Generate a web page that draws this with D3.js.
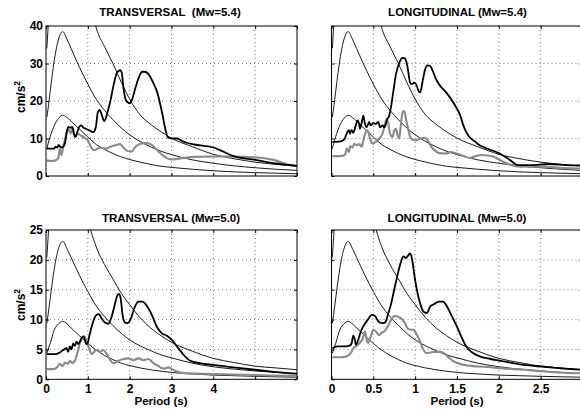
<!DOCTYPE html>
<html>
<head>
<meta charset="utf-8">
<script src="https://cdn.jsdelivr.net/npm/d3@7"></script>
<style>
  html, body { margin: 0; padding: 0; background: #fff; }
  svg { display: block; font-family: "Liberation Sans", Arial, Helvetica, sans-serif; font-weight: bold; }
</style>
</head>
<body>
<svg id="chart" width="580" height="413"></svg>
<script>
// ---- Spectral acceleration data (cm/s^2 vs period in s) ----

// Periods at which the fitted spectra are sampled
const periodsT = [0.02, 0.05, 0.1, 0.2, 0.3, 0.4, 0.5, 0.6, 0.8, 1.0, 1.2, 1.4, 1.6, 1.8, 2.0, 2.25, 2.5, 2.75, 3.0, 3.5, 4.0, 4.5, 5.0, 5.5, 6.0];
const periodsL = [0.01, 0.025, 0.05, 0.1, 0.15, 0.2, 0.25, 0.3, 0.4, 0.5, 0.6, 0.7, 0.8, 0.9, 1.0, 1.125, 1.25, 1.375, 1.5, 1.75, 2.0, 2.25, 2.5, 2.75, 3.0];

// Fitted spectra, Mw=5.4 (upper, median, lower)
const fitUpper54  = [34, 39.5, 49, 67, 79, 83, 79, 73, 61, 50, 39.5, 34.5, 30, 25, 20.5, 16.3, 13.8, 11.8, 10.1, 7.8, 5.8, 4.6, 3.7, 3.1, 2.6];
const fitMedian54 = [15.7, 18, 22.5, 31, 36.5, 38.5, 36.5, 34, 29, 24.5, 20.5, 17.5, 15, 12.8, 11, 9.2, 7.8, 6.6, 5.7, 4.3, 3.4, 2.7, 2.2, 1.8, 1.5];
const fitLower54  = [7.3, 8.6, 10.5, 13.5, 15.4, 16.2, 15.6, 14.6, 12.5, 10.4, 8.4, 7.1, 6.0, 5.1, 4.4, 3.7, 3.1, 2.6, 2.3, 1.8, 1.4, 1.1, 0.9, 0.75, 0.6];

// Fitted spectra, Mw=5.0 (upper, median, lower)
const fitUpper50  = [20.4, 23.7, 29.4, 40, 47, 50, 47, 44, 36, 27, 22.2, 19.2, 16.8, 14.4, 12.5, 10.3, 8.6, 7.3, 6.2, 4.7, 3.5, 2.8, 2.2, 1.9, 1.6];
const fitMedian50 = [9.4, 10.8, 13.5, 18.6, 21.9, 23.1, 21.9, 20.4, 17.4, 14.7, 12.3, 10.5, 9.0, 7.7, 6.6, 5.6, 4.8, 4.1, 3.6, 2.7, 2.1, 1.7, 1.4, 1.15, 0.95];
const fitLower50  = [4.4, 5.0, 6.0, 8.3, 9.3, 9.7, 9.3, 8.6, 7.3, 6.0, 4.9, 4.0, 3.3, 2.7, 2.3, 1.9, 1.6, 1.35, 1.15, 0.9, 0.7, 0.6, 0.5, 0.42, 0.35];

// Recorded spectra [period, Sa]: two stations per panel (black, gray)
const tr54Black = [[0.02,7.3],[0.19,7.3],[0.23,7.8],[0.27,7.6],[0.3,8.3],[0.33,7.9],[0.39,7.6],[0.45,8.6],[0.49,11.3],[0.53,13],[0.57,12.9],[0.63,13],[0.67,11.3],[0.71,10.4],[0.75,11.7],[0.79,13],[0.84,13.5],[0.89,12.9],[0.95,12.6],[1.03,12.2],[1.13,11.7],[1.19,13],[1.24,17],[1.28,17.6],[1.35,15.7],[1.39,14.6],[1.46,16.6],[1.54,20.1],[1.62,24.5],[1.7,27.6],[1.77,28.2],[1.81,27.6],[1.85,23.6],[1.9,20.5],[1.96,19.6],[2.0,19.4],[2.06,20.5],[2.14,23.6],[2.22,26.3],[2.3,27.8],[2.36,27.8],[2.44,27.3],[2.54,25.4],[2.66,22.3],[2.78,16.6],[2.86,12.2],[2.92,10.2],[3.0,10.0],[3.14,10],[3.26,9.3],[3.38,8.8],[3.54,8.4],[4.0,7.6],[4.16,6.9],[4.48,5.3],[5.0,4.3],[5.44,3.4],[5.84,2.9],[6.0,2.7]];
const tr54Gray = [[0.02,4.1],[0.15,4.0],[0.23,4.2],[0.29,4.7],[0.33,7.3],[0.37,5.6],[0.41,7.8],[0.47,10.4],[0.51,12.3],[0.55,12.2],[0.59,11.3],[0.63,13],[0.68,10.4],[0.75,11.3],[0.83,10.8],[0.89,10.4],[0.95,10],[1.0,9.5],[1.07,7.8],[1.15,6.9],[1.23,7.3],[1.31,7.6],[1.43,7.3],[1.54,7.8],[1.66,8.2],[1.77,8.5],[1.85,7.6],[1.94,6.7],[2.04,6.5],[2.14,7.8],[2.26,8.6],[2.38,8.8],[2.5,8.5],[2.62,7.3],[2.74,6.0],[2.9,4.7],[3.0,4.4],[3.22,4.7],[3.54,5.1],[4.0,5.2],[4.48,5.2],[5.0,5.0],[5.44,4.3],[5.84,2.9],[6.0,2.6]];

const lg54Black = [[0.01,9.1],[0.06,9.1],[0.12,9.3],[0.16,10],[0.18,11.3],[0.21,12.2],[0.22,11.3],[0.24,12.3],[0.26,11.5],[0.29,13.5],[0.31,14.8],[0.33,13.9],[0.34,12.6],[0.37,15.2],[0.38,16.1],[0.4,13.9],[0.42,13],[0.45,14.4],[0.47,13.5],[0.5,14.1],[0.53,13.9],[0.56,14.4],[0.58,13],[0.61,13.5],[0.63,13],[0.65,13.9],[0.66,14.8],[0.69,16.1],[0.71,18.3],[0.74,22.7],[0.77,27.1],[0.81,30.2],[0.85,31.5],[0.88,31.3],[0.91,28.9],[0.94,24.9],[0.96,24.5],[0.99,24.9],[1.02,24],[1.04,22.7],[1.06,22.3],[1.09,25.4],[1.12,28.5],[1.15,29.5],[1.18,29.3],[1.21,28],[1.25,25.8],[1.3,24],[1.37,22.3],[1.43,20.5],[1.49,18.3],[1.54,16.1],[1.57,13.9],[1.61,11.7],[1.65,10.4],[1.71,9.3],[1.77,8.2],[1.85,7.4],[2.01,6.0],[2.13,4.3],[2.23,2.9],[2.37,2.9],[2.6,3.2],[2.8,2.9],[3.0,2.8]];
const lg54Gray = [[0.01,5.3],[0.1,5.3],[0.16,5.6],[0.18,7.3],[0.21,6.4],[0.22,7.9],[0.25,7.6],[0.27,8.6],[0.3,8.2],[0.33,8.5],[0.36,7.8],[0.38,9.5],[0.41,11.7],[0.43,12.2],[0.46,10],[0.49,8.6],[0.53,9.1],[0.57,10],[0.61,11.3],[0.64,13.9],[0.66,15.2],[0.68,13.9],[0.7,11.3],[0.73,10.4],[0.75,12.2],[0.77,12.6],[0.79,10.8],[0.81,10],[0.83,13.9],[0.85,17],[0.87,17.4],[0.89,15.2],[0.92,12.2],[0.94,10.4],[0.97,9.7],[1.01,9.5],[1.06,10],[1.11,10.2],[1.15,9.5],[1.19,7.9],[1.23,6.9],[1.29,6.1],[1.37,6.0],[1.43,6.4],[1.49,6.0],[1.57,5.4],[1.65,4.8],[1.72,5.3],[1.79,5.6],[1.93,5.2],[2.05,3.8],[2.15,2.9],[2.29,2.5],[2.53,2.5],[2.77,2.1],[3.0,2.0]];

const tr50Black = [[0.02,4.2],[0.22,4.2],[0.33,4.5],[0.41,4.9],[0.49,5.2],[0.53,4.6],[0.57,5.5],[0.61,5.0],[0.65,6.0],[0.69,5.6],[0.73,6.3],[0.77,5.9],[0.81,6.3],[0.85,6.9],[0.89,7.2],[0.93,6.6],[0.96,5.9],[0.99,6.0],[1.05,7.7],[1.13,9.7],[1.21,10.8],[1.27,10.9],[1.33,10.2],[1.41,9.5],[1.49,9.3],[1.57,10.5],[1.65,12.7],[1.71,14.1],[1.75,14.3],[1.79,13.3],[1.83,10.8],[1.89,9.5],[1.95,9.4],[2.03,10.2],[2.11,11.9],[2.21,13.0],[2.31,13.0],[2.41,12.3],[2.53,10.8],[2.65,8.8],[2.77,7.7],[2.89,7.3],[3.01,6.6],[3.13,5.5],[3.29,4.1],[3.45,3.1],[3.68,2.7],[4.0,2.4],[4.48,2.0],[5.0,1.6],[5.84,1.0],[6.0,0.95]];
const tr50Gray = [[0.02,1.7],[0.18,1.7],[0.26,2.0],[0.33,2.6],[0.4,2.2],[0.45,2.8],[0.53,2.6],[0.57,3.1],[0.64,2.7],[0.69,3.1],[0.75,4.4],[0.81,6.0],[0.88,7.0],[0.92,7.2],[0.97,6.3],[1.04,5.0],[1.09,4.2],[1.15,4.6],[1.21,4.9],[1.29,4.6],[1.36,4.9],[1.44,4.4],[1.52,3.4],[1.61,2.7],[1.73,3.1],[1.85,3.4],[1.97,3.5],[2.09,3.2],[2.21,3.5],[2.33,3.2],[2.45,3.4],[2.57,2.7],[2.69,2.2],[2.81,1.8],[2.93,2.0],[3.01,1.7],[3.13,1.3],[3.37,1.0],[4.0,0.9],[5.0,0.7],[5.84,0.6],[6.0,0.6]];

const lg50Black = [[0.01,5.2],[0.07,5.5],[0.15,5.5],[0.21,5.6],[0.24,6.0],[0.26,7.3],[0.28,6.6],[0.29,5.8],[0.32,6.6],[0.35,8.0],[0.39,9.1],[0.44,10.1],[0.48,10.8],[0.52,10.6],[0.56,9.7],[0.6,9.4],[0.64,9.5],[0.68,11.1],[0.71,12.5],[0.74,14.4],[0.78,16.9],[0.82,19.2],[0.86,20.6],[0.89,20.3],[0.92,20.8],[0.94,21.1],[0.96,20.3],[0.99,17.5],[1.02,15.0],[1.06,12.7],[1.1,11.3],[1.14,11.1],[1.18,12.2],[1.23,12.6],[1.28,13.0],[1.33,13.0],[1.38,12.2],[1.43,10.8],[1.49,9.1],[1.55,7.2],[1.61,5.5],[1.69,4.4],[1.78,3.8],[1.9,3.4],[2.06,3.0],[2.3,2.4],[2.54,2.1],[2.78,1.8],[3.0,1.6]];
const lg50Gray = [[0.01,3.7],[0.11,3.7],[0.17,3.8],[0.21,4.1],[0.24,4.6],[0.26,5.2],[0.29,5.5],[0.33,6.0],[0.37,6.7],[0.4,8.0],[0.42,6.6],[0.44,6.1],[0.47,7.2],[0.5,8.3],[0.53,8.0],[0.57,7.4],[0.6,7.8],[0.63,8.0],[0.67,8.8],[0.71,9.9],[0.75,10.6],[0.79,10.5],[0.84,10.1],[0.88,9.4],[0.91,8.5],[0.95,8.3],[0.98,8.3],[1.01,7.7],[1.05,6.6],[1.09,5.2],[1.13,4.4],[1.18,4.5],[1.23,4.6],[1.29,4.6],[1.34,4.4],[1.39,3.8],[1.45,3.1],[1.51,2.7],[1.59,2.4],[1.69,2.2],[1.82,2.1],[2.06,1.8],[2.3,1.6],[2.54,1.3],[2.78,1.1],[3.0,1.0]];

// Axis ticks
const xTicksT = [0, 1, 2, 3, 4, 5, 6];
const xTickLabelsT = ["0", "1", "2", "3", "4", "", ""];
const xTicksL = [0, 0.5, 1, 1.5, 2, 2.5, 3];
const xTickLabelsL = ["0", "0.5", "1", "1.5", "2", "2.5", "3"];
const yTicks54 = [0, 10, 20, 30, 40];
const yTicks50 = [0, 5, 10, 15, 20, 25];

const titles = ["TRANSVERSAL\u00a0\u00a0(Mw=5.4)", "LONGITUDINAL (Mw=5.4)", "TRANSVERSAL (Mw=5.0)", "LONGITUDINAL (Mw=5.0)"];

// ---- Panel layout ----
const panels = [
  { title: titles[0], left: 46,    top: 26,  width: 251, height: 150, xMax: 6, yMax: 40,
    xTicks: xTicksT, xLabels: null, yTicks: yTicks54, yLabels: true, titleX: 170, titleY: 16, yLabelY: 97,
    periods: periodsT, fits: [fitUpper54, fitMedian54, fitLower54], black: tr54Black, gray: tr54Gray },
  { title: titles[1], left: 331.5, top: 26,  width: 251, height: 150, xMax: 3, yMax: 40,
    xTicks: xTicksL, xLabels: null, yTicks: yTicks54, yLabels: false, titleX: 457.5, titleY: 16,
    periods: periodsL, fits: [fitUpper54, fitMedian54, fitLower54], black: lg54Black, gray: lg54Gray },
  { title: titles[2], left: 46,    top: 230, width: 251, height: 149.3, xMax: 6, yMax: 25,
    xTicks: xTicksT, xLabels: xTickLabelsT, yTicks: yTicks50, yLabels: true, titleX: 171, titleY: 222, yLabelY: 305,
    xTitleX: 161, periods: periodsT, fits: [fitUpper50, fitMedian50, fitLower50], black: tr50Black, gray: tr50Gray },
  { title: titles[3], left: 331.5, top: 230, width: 251, height: 149.3, xMax: 3, yMax: 25,
    xTicks: xTicksL, xLabels: xTickLabelsL, yTicks: yTicks50, yLabels: false, titleX: 457, titleY: 222,
    xTitleX: 457, periods: periodsL, fits: [fitUpper50, fitMedian50, fitLower50], black: lg50Black, gray: lg50Gray }
];

const svg = d3.select("#chart");
const defs = svg.append("defs");
const FONT = "11.5px";
const TICK_FONT = "12px";

panels.forEach((p, i) => {
  const x = d3.scaleLinear().domain([0, p.xMax]).range([p.left, p.left + p.width]);
  const y = d3.scaleLinear().domain([0, p.yMax]).range([p.top + p.height, p.top]);
  const bottom = p.top + p.height, right = p.left + p.width;
  const g = svg.append("g");

  defs.append("clipPath").attr("id", "plot-clip-" + i)
    .append("rect").attr("x", p.left).attr("y", p.top).attr("width", p.width).attr("height", p.height);

  // dotted grid
  const inner = arr => arr.slice(1, -1);
  const grid = g.append("g").attr("stroke", "#7a7a7a").attr("stroke-width", 1).attr("stroke-dasharray", "1,3");
  grid.selectAll("line.gx").data(inner(p.xTicks)).join("line")
    .attr("x1", d => x(d)).attr("x2", d => x(d)).attr("y1", p.top).attr("y2", bottom);
  grid.selectAll("line.gy").data(inner(p.yTicks)).join("line")
    .attr("x1", p.left).attr("x2", right).attr("y1", d => y(d)).attr("y2", d => y(d));

  const plot = g.append("g").attr("clip-path", `url(#plot-clip-${i})`);
  const line = d3.line().x(d => x(d[0])).y(d => y(d[1])).curve(d3.curveMonotoneX);

  // fitted spectra (thin)
  p.fits.forEach(vals => {
    plot.append("path").datum(p.periods.map((t, k) => [t, vals[k]]))
      .attr("d", line).attr("fill", "none").attr("stroke", "#000").attr("stroke-width", 0.9);
  });
  // recorded spectra
  plot.append("path").datum(p.gray).attr("d", line)
    .attr("fill", "none").attr("stroke", "#8a8a8a").attr("stroke-width", 2.1).attr("stroke-linejoin", "round");
  plot.append("path").datum(p.black).attr("d", line)
    .attr("fill", "none").attr("stroke", "#000").attr("stroke-width", 1.8).attr("stroke-linejoin", "round");

  // inward ticks on all four sides
  const styleAxis = sel => {
    sel.select(".domain").remove();
    sel.selectAll("text").attr("font-size", TICK_FONT).attr("font-family", null).attr("fill", "#000");
  };
  const xb = d3.axisBottom(x).tickValues(p.xTicks).tickSizeInner(-3).tickSizeOuter(0).tickPadding(5.5)
    .tickFormat((d, k) => p.xLabels ? p.xLabels[k] : "");
  g.append("g").attr("transform", `translate(0,${bottom})`).call(xb).call(styleAxis);
  g.append("g").attr("transform", `translate(0,${p.top})`)
    .call(d3.axisTop(x).tickValues(p.xTicks).tickSizeInner(-3).tickSizeOuter(0).tickFormat("")).call(styleAxis);
  const yl = d3.axisLeft(y).tickValues(p.yTicks).tickSizeInner(-3).tickSizeOuter(0).tickPadding(3)
    .tickFormat(d => p.yLabels ? d3.format("d")(d) : "");
  g.append("g").attr("transform", `translate(${p.left},0)`).call(yl).call(styleAxis);
  g.append("g").attr("transform", `translate(${right},0)`)
    .call(d3.axisRight(y).tickValues(p.yTicks).tickSizeInner(-3).tickSizeOuter(0).tickFormat("")).call(styleAxis);

  // axes box
  g.append("rect").attr("x", p.left).attr("y", p.top).attr("width", p.width).attr("height", p.height)
    .attr("fill", "none").attr("stroke", "#000").attr("stroke-width", 1);

  // title
  g.append("text").attr("x", p.titleX).attr("y", p.titleY).attr("text-anchor", "middle")
    .attr("font-size", FONT).text(p.title);

  // y-axis label
  if (p.yLabels) {
    const t = g.append("text").attr("transform", `translate(25,${p.yLabelY}) rotate(-90)`)
      .attr("text-anchor", "middle").attr("font-size", TICK_FONT);
    t.append("tspan").text("cm/s");
    t.append("tspan").attr("font-size", "8.5px").attr("dy", "-5").text("2");
  }
  // x-axis label
  if (p.xLabels) {
    g.append("text").attr("x", p.xTitleX).attr("y", 405).attr("text-anchor", "middle")
      .attr("font-size", FONT).text("Period (s)");
  }
});
</script>
</body>
</html>
